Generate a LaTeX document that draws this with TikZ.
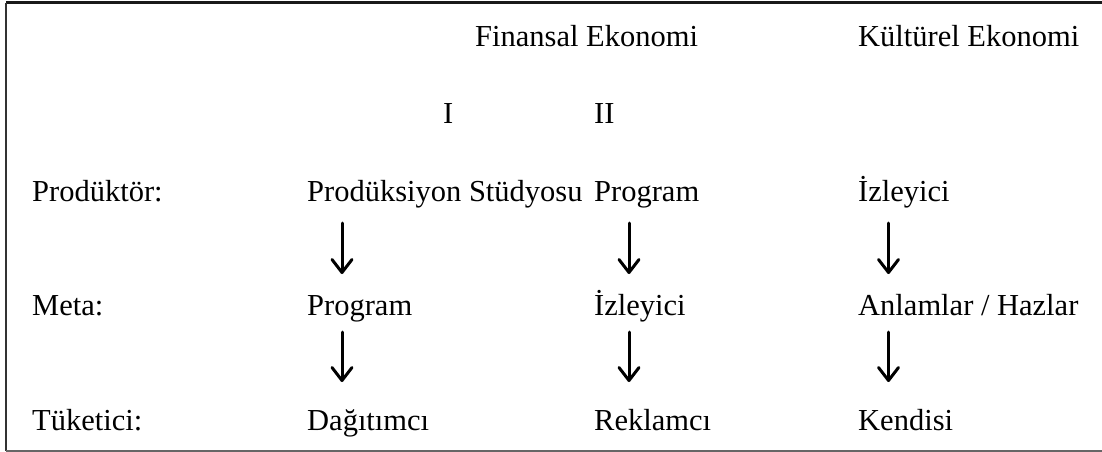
\documentclass[tikz,border=0pt]{standalone}
\usepackage{fontspec}
\setmainfont{Liberation Serif}
\usetikzlibrary{arrows.meta,calc}
\begin{document}
\begin{tikzpicture}[x=1pt,y=-1pt,
  lbl/.style={anchor=base west,inner sep=0pt,font=\fontsize{30.5}{36}\selectfont},
  arr/.style={line width=3pt,line cap=round,-{Straight Barb[length=13pt,width=20pt,line width=3pt,round]}}]
\useasboundingbox (0,0) rectangle (1102,452);
% frame
\draw[line width=3pt,black!90] (6,3) -- (1102,3);
\draw[line width=2pt,black!80] (6,3) -- (6,451);
\draw[line width=1.5pt,black!60] (6,451) -- (1102,451);
% headers
\node[lbl] (fin) at (475,47) {Finansal Ekonomi};
\node[lbl] (kul) at (858,47) {Kültürel Ekonomi};
\node[lbl] (one) at (443,123) {I};
\node[lbl] (two) at (594,123) {II};
% row labels
\node[lbl] (r1) at (32,201) {Prodüktör:};
\node[lbl] (r2) at (32,315) {Meta:};
\node[lbl] (r3) at (32,430) {Tüketici:};
% column I
\node[lbl] (a1) at (307,201) {Prodüksiyon Stüdyosu};
\node[lbl] (a2) at (307,315) {Program};
\node[lbl] (a3) at (307,430) {Dağıtımcı};
% column II
\node[lbl] (b1) at (594,201) {Program};
\node[lbl] (b2) at (594,315) {İzleyici};
\node[lbl] (b3) at (594,430) {Reklamcı};
% column Kültürel
\node[lbl] (c1) at (858,201) {İzleyici};
\node[lbl] (c2) at (858,315) {Anlamlar / Hazlar};
\node[lbl] (c3) at (858,430) {Kendisi};
% arrows
\draw[arr] ($(a1.base west)+(35,22)$) -- ($(a2.base west)+(35,-41)$);
\draw[arr] ($(a2.base west)+(35,17)$) -- ($(a3.base west)+(35,-48)$);
\draw[arr] ($(b1.base west)+(35,22)$) -- ($(b2.base west)+(35,-41)$);
\draw[arr] ($(b2.base west)+(35,17)$) -- ($(b3.base west)+(35,-48)$);
\draw[arr] ($(c1.base west)+(30.5,22)$) -- ($(c2.base west)+(30.5,-41)$);
\draw[arr] ($(c2.base west)+(30.5,17)$) -- ($(c3.base west)+(30.5,-48)$);
\end{tikzpicture}
\end{document}
